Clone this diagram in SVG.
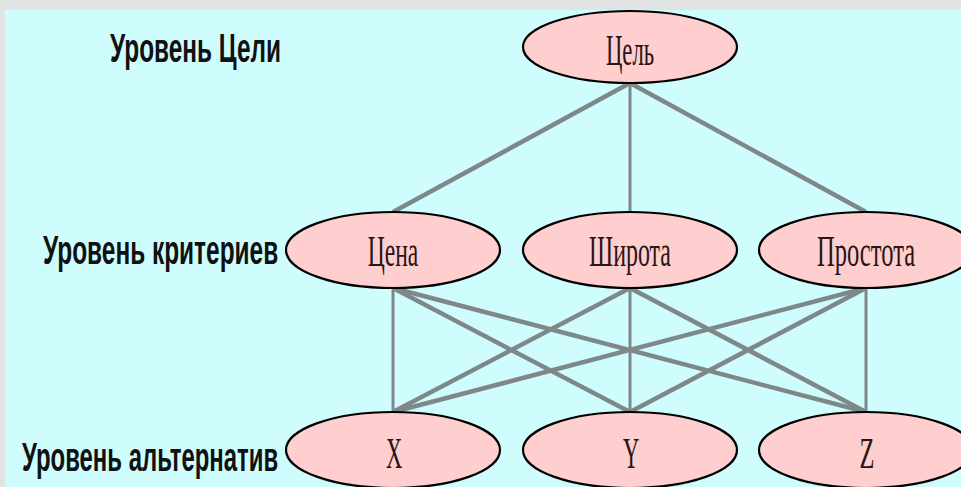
<svg xmlns="http://www.w3.org/2000/svg" width="961" height="487" viewBox="0 0 961 487">
<style>
.bg{fill:#cffdfd}
.frame{fill:#e2e4e4}
.edge{stroke:#7e8888;stroke-width:4.5;fill:none;stroke-linecap:butt}
.vert{stroke:#7e8888;stroke-width:3;fill:none}
.node ellipse{fill:#ffcfcf;stroke:#000;stroke-width:2.2}
.node text{font-family:"Liberation Serif","Times New Roman",serif;font-size:44px;fill:#2a1414;text-anchor:middle}
.lvl{font-family:"Liberation Sans",Arial,sans-serif;font-size:40px;font-weight:bold;fill:#111;text-anchor:start}
</style>
<rect class="bg" x="0" y="0" width="961" height="487"/>
<rect class="frame" x="0" y="0" width="961" height="10"/>
<rect class="frame" x="0" y="0" width="5" height="487"/>
<g id="labels">
<text class="lvl" transform="translate(110,62) scale(0.6,1)" x="0" y="0" textLength="285" lengthAdjust="spacingAndGlyphs">Уровень Цели</text>
<text class="lvl" transform="translate(43,264) scale(0.6,1)" x="0" y="0" textLength="392" lengthAdjust="spacingAndGlyphs">Уровень критериев</text>
<text class="lvl" transform="translate(22,471) scale(0.6,1)" x="0" y="0" textLength="427" lengthAdjust="spacingAndGlyphs">Уровень альтернатив</text>
</g>
<g id="connectors">
<line class="edge" x1="630" y1="83" x2="393" y2="212"/>
<line class="vert" x1="630" y1="83" x2="630" y2="212"/>
<line class="edge" x1="630" y1="83" x2="866" y2="212"/>
<line class="vert" x1="393" y1="288" x2="393" y2="412"/>
<line class="edge" x1="393" y1="288" x2="630" y2="412"/>
<line class="edge" x1="393" y1="288" x2="866" y2="412"/>
<line class="edge" x1="630" y1="288" x2="393" y2="412"/>
<line class="vert" x1="630" y1="288" x2="630" y2="412"/>
<line class="edge" x1="630" y1="288" x2="866" y2="412"/>
<line class="edge" x1="866" y1="288" x2="393" y2="412"/>
<line class="edge" x1="866" y1="288" x2="630" y2="412"/>
<line class="vert" x1="866" y1="288" x2="866" y2="412"/>
</g>
<g id="goal" class="node"><ellipse cx="630" cy="47" rx="107" ry="36"/><text transform="translate(630,65) scale(0.65,1)" x="0" y="0" textLength="74" lengthAdjust="spacingAndGlyphs">Цель</text></g>
<g id="price" class="node"><ellipse cx="393" cy="250" rx="107" ry="38"/><text transform="translate(393,266) scale(0.65,1)" x="0" y="0" textLength="78" lengthAdjust="spacingAndGlyphs">Цена</text></g>
<g id="breadth" class="node"><ellipse cx="630" cy="250" rx="107" ry="38"/><text transform="translate(630,266) scale(0.65,1)" x="0" y="0" textLength="126" lengthAdjust="spacingAndGlyphs">Широта</text></g>
<g id="simplicity" class="node"><ellipse cx="866" cy="250" rx="107" ry="38"/><text transform="translate(866,266) scale(0.65,1)" x="0" y="0" textLength="151" lengthAdjust="spacingAndGlyphs">Простота</text></g>
<g id="alt-x" class="node"><ellipse cx="393" cy="450" rx="107" ry="38"/><text transform="translate(394,468) scale(0.65,1)" x="0" y="0" textLength="25" lengthAdjust="spacingAndGlyphs">X</text></g>
<g id="alt-y" class="node"><ellipse cx="630" cy="450" rx="107" ry="38"/><text transform="translate(631,468) scale(0.65,1)" x="0" y="0" textLength="25" lengthAdjust="spacingAndGlyphs">Y</text></g>
<g id="alt-z" class="node"><ellipse cx="866" cy="450" rx="107" ry="38"/><text transform="translate(867,468) scale(0.65,1)" x="0" y="0" textLength="23" lengthAdjust="spacingAndGlyphs">Z</text></g>
</svg>
